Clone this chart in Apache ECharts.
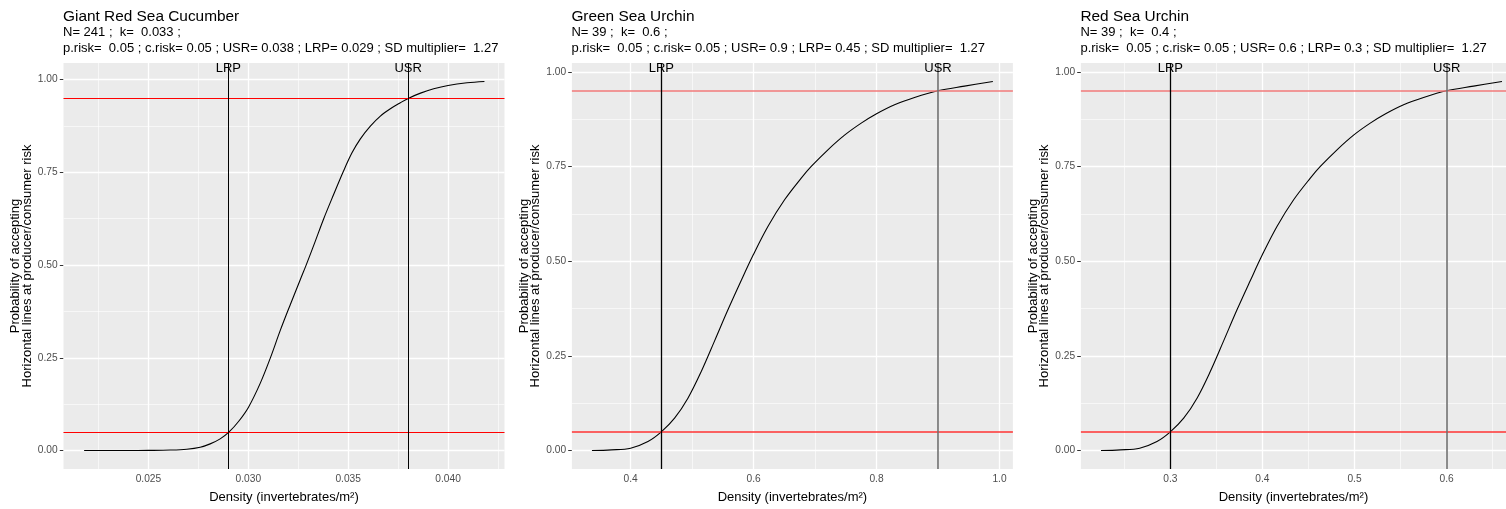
<!DOCTYPE html>
<html><head><meta charset="utf-8">
<script src="https://cdn.jsdelivr.net/npm/echarts@6/dist/echarts.min.js"></script>
<style>html,body{margin:0;padding:0;background:#fff}#c{width:1506px;height:509px}</style>
</head><body><div id="c"></div>
<script>
// ---- data ----
const panelTitles = ['Giant Red Sea Cucumber', 'Green Sea Urchin', 'Red Sea Urchin'];
const panelSubtitles = [
  'N= 241 ;  k=  0.033 ;\np.risk=  0.05 ; c.risk= 0.05 ; USR= 0.038 ; LRP= 0.029 ; SD multiplier=  1.27',
  'N= 39 ;  k=  0.6 ;\np.risk=  0.05 ; c.risk= 0.05 ; USR= 0.9 ; LRP= 0.45 ; SD multiplier=  1.27',
  'N= 39 ;  k=  0.4 ;\np.risk=  0.05 ; c.risk= 0.05 ; USR= 0.6 ; LRP= 0.3 ; SD multiplier=  1.27'
];
const cucumberDensity = [0.02178, 0.02391, 0.02500, 0.02609, 0.02692, 0.02759, 0.02809, 0.02859, 0.02904, 0.02951, 0.03001, 0.03060, 0.03110, 0.03160, 0.03210, 0.03260, 0.03289, 0.03335, 0.03377, 0.03427, 0.03474, 0.03519, 0.03561, 0.03611, 0.03661, 0.03711, 0.03761, 0.03803, 0.03862, 0.03928, 0.04000, 0.04095, 0.04182];
const cucumberProb    = [0.0000, 0.0000, 0.0004, 0.0013, 0.0036, 0.0090, 0.0180, 0.0315, 0.0504, 0.0783, 0.1169, 0.1817, 0.2491, 0.3237, 0.3930, 0.4604, 0.4991, 0.5638, 0.6241, 0.6898, 0.7500, 0.8022, 0.8399, 0.8741, 0.9011, 0.9209, 0.9371, 0.9496, 0.9631, 0.9748, 0.9838, 0.9910, 0.9946];
const greenDensity = [0.3371, 0.3686, 0.4000, 0.4282, 0.4499, 0.4715, 0.4932, 0.5149, 0.5366, 0.5583, 0.5799, 0.5995, 0.6233, 0.6504, 0.6775, 0.6938, 0.7209, 0.7480, 0.7751, 0.8000, 0.8293, 0.8618, 0.8997, 0.9431, 0.9892];
const greenProb    = [0.0000, 0.0018, 0.0062, 0.0238, 0.0493, 0.0854, 0.1382, 0.2086, 0.2896, 0.3715, 0.4489, 0.5167, 0.5915, 0.6620, 0.7192, 0.7500, 0.7940, 0.8327, 0.8644, 0.8891, 0.9129, 0.9322, 0.9498, 0.9621, 0.9745];
const redDensity = [0.2247, 0.2457, 0.2667, 0.2855, 0.3000, 0.3145, 0.3290, 0.3434, 0.3579, 0.3724, 0.3869, 0.3999, 0.4158, 0.4339, 0.4520, 0.4629, 0.4810, 0.4990, 0.5171, 0.5338, 0.5533, 0.5750, 0.6000, 0.6293, 0.6601];
const redProb    = [0.0000, 0.0018, 0.0062, 0.0238, 0.0493, 0.0854, 0.1382, 0.2086, 0.2896, 0.3715, 0.4489, 0.5167, 0.5915, 0.6620, 0.7192, 0.7500, 0.7940, 0.8327, 0.8644, 0.8891, 0.9129, 0.9322, 0.9498, 0.9621, 0.9745];
const lrpValues = [0.029, 0.45, 0.3];
const usrValues = [0.038, 0.9, 0.6];
const riskLines = [0.05, 0.95];
const xMajor = [[0.025, 0.030, 0.035, 0.040], [0.4, 0.6, 0.8, 1.0], [0.3, 0.4, 0.5, 0.6]];
const xMajorLabels = [['0.025', '0.030', '0.035', '0.040'], ['0.4', '0.6', '0.8', '1.0'], ['0.3', '0.4', '0.5', '0.6']];
const xMinor = [[0.0225, 0.0275, 0.0325, 0.0375, 0.0425], [0.5, 0.7, 0.9], [0.25, 0.35, 0.45, 0.55, 0.65]];
const yMajor = [0, 0.25, 0.5, 0.75, 1];
const yMajorLabels = ['0.00', '0.25', '0.50', '0.75', '1.00'];
const yMinor = [0.125, 0.375, 0.625, 0.875];
const xName = 'Density (invertebrates/m²)';
const yName = 'Probability of accepting\nHorizontal lines at producer/consumer risk';

// ---- layout / style ----
const FONT = '"Liberation Sans", Arial, Helvetica, sans-serif';
const gridLefts = [63.5, 571.9, 1080.9];
const gridWidths = [441, 441, 425.1];
const gridTop = 63, gridHeight = 406;
const xMins = [0.020748, 0.3045, 0.2029];
const xMaxs = [0.042825, 1.0218, 0.6645];
const yMins = [-0.0497, -0.0487, -0.0487];
const yMaxs = [1.0443, 1.0232, 1.0232];
const upperRed = ['#FF0000', '#F27A7A', '#F27A7A'];
const lowerRed = ['#FF0000', '#FF3333', '#FF3333'];
const upperWidth = [1.2, 1.6, 1.6];
const lowerWidth = [1.2, 1.6, 1.6];
const usrColor = ['#000000', '#707070', '#707070'];
const usrWidth = [1, 1.6, 1.6];
const lrpWidth = [1, 1.3, 1.3];

const curves = [
  cucumberDensity.map((d, i) => [d, cucumberProb[i]]),
  greenDensity.map((d, i) => [d, greenProb[i]]),
  redDensity.map((d, i) => [d, redProb[i]])
];

function lookup(vals, labels, v) {
  for (let i = 0; i < vals.length; i++) if (Math.abs(vals[i] - v) < 1e-9) return labels[i];
  return '';
}

function refLine(p, item, color, width, z) {
  return {
    type: 'line', xAxisIndex: p, yAxisIndex: p, data: curves[p], z: z, silent: true,
    showSymbol: false, lineStyle: { opacity: 0 }, emphasis: { disabled: true },
    markLine: { z: z, precision: 8, silent: true, symbol: ['none', 'none'], label: { show: false },
      animation: false, emphasis: { disabled: true },
      lineStyle: { color: color, width: width, type: 'solid', opacity: 1 },
      data: [item] }
  };
}

const option = { animation: false, title: [], grid: [], xAxis: [], yAxis: [], series: [] };

for (let p = 0; p < 3; p++) {
  option.title.push({
    text: panelTitles[p], subtext: panelSubtitles[p],
    left: gridLefts[p] - 0.5, top: 9, padding: 0, itemGap: 0,
    textStyle: { fontFamily: FONT, fontSize: 15.4, fontWeight: 'normal', color: '#000' },
    subtextStyle: { fontFamily: FONT, fontSize: 13, color: '#000', lineHeight: 16.5 }
  });
  option.grid.push({
    left: gridLefts[p], top: gridTop, width: gridWidths[p], height: gridHeight,
    show: true, backgroundColor: '#EBEBEB', borderWidth: 0
  });
  option.xAxis.push({
    gridIndex: p, type: 'value', min: xMins[p], max: xMaxs[p],
    axisLine: { show: false },
    axisTick: { show: true, customValues: xMajor[p], length: 3.7, lineStyle: { color: '#333333', width: 1 } },
    axisLabel: { customValues: xMajor[p], formatter: v => lookup(xMajor[p], xMajorLabels[p], v),
      color: '#4D4D4D', fontSize: 10.2, fontFamily: FONT, margin: 5.5 },
    splitLine: { show: false },
    name: xName, nameLocation: 'middle', nameGap: 21.5,
    nameTextStyle: { fontFamily: FONT, fontSize: 13, color: '#000' }
  });
  option.yAxis.push({
    gridIndex: p, type: 'value', min: yMins[p], max: yMaxs[p],
    axisLine: { show: false },
    axisTick: { show: true, customValues: yMajor, length: 3.7, lineStyle: { color: '#333333', width: 1 } },
    axisLabel: { customValues: yMajor, formatter: v => lookup(yMajor, yMajorLabels, v),
      color: '#4D4D4D', fontSize: 10.2, fontFamily: FONT, margin: 5.8 },
    splitLine: { show: false },
    name: yName, nameLocation: 'middle', nameRotate: 90, nameGap: 30,
    nameTextStyle: { fontFamily: FONT, fontSize: 13, color: '#000', lineHeight: 11.7, align: 'center' }
  });

  // gridlines (drawn under everything)
  const gridData = [];
  xMinor[p].forEach(v => gridData.push({ xAxis: v, lineStyle: { color: '#FFFFFF', width: 0.6, type: 'solid' } }));
  yMinor.forEach(v => gridData.push({ yAxis: v, lineStyle: { color: '#FFFFFF', width: 0.6, type: 'solid' } }));
  xMajor[p].forEach(v => gridData.push({ xAxis: v, lineStyle: { color: '#FFFFFF', width: 1.3, type: 'solid' } }));
  yMajor.forEach(v => gridData.push({ yAxis: v, lineStyle: { color: '#FFFFFF', width: 1.3, type: 'solid' } }));
  option.series.push({
    type: 'line', xAxisIndex: p, yAxisIndex: p, data: curves[p], z: 1, silent: true,
    showSymbol: false, lineStyle: { opacity: 0 },
    markLine: { z: 1, precision: 8, silent: true, symbol: ['none', 'none'], label: { show: false }, animation: false, data: gridData }
  });

  // OC curve
  option.series.push({
    type: 'line', xAxisIndex: p, yAxisIndex: p, data: curves[p], z: 3,
    showSymbol: false, smooth: 0.35,
    lineStyle: { color: '#000000', width: 1.1 }
  });

  // reference lines
  option.series.push(refLine(p, { yAxis: riskLines[1] }, upperRed[p], upperWidth[p], 4));
  option.series.push(refLine(p, { yAxis: riskLines[0] }, lowerRed[p], lowerWidth[p], 4));
  option.series.push(refLine(p, { xAxis: lrpValues[p] }, '#000000', lrpWidth[p], 4));
  option.series.push(refLine(p, { xAxis: usrValues[p] }, usrColor[p], usrWidth[p], 4));

  // LRP / USR labels
  option.series.push({
    type: 'line', xAxisIndex: p, yAxisIndex: p, data: curves[p], z: 5, silent: true,
    showSymbol: false, lineStyle: { opacity: 0 },
    markPoint: { z: 5, silent: true, symbol: 'rect', symbolSize: 0, animation: false,
      label: { show: true, position: 'inside', formatter: '{b}', color: '#000', fontSize: 13, fontFamily: FONT, offset: [0, 5] },
      data: [
        { name: 'LRP', coord: [lrpValues[p], yMaxs[p]] },
        { name: 'USR', coord: [usrValues[p], yMaxs[p]] }
      ] }
  });
}

const chart = echarts.init(document.getElementById('c'), null, { renderer: 'canvas' });
chart.setOption(option);
</script>
</body></html>
